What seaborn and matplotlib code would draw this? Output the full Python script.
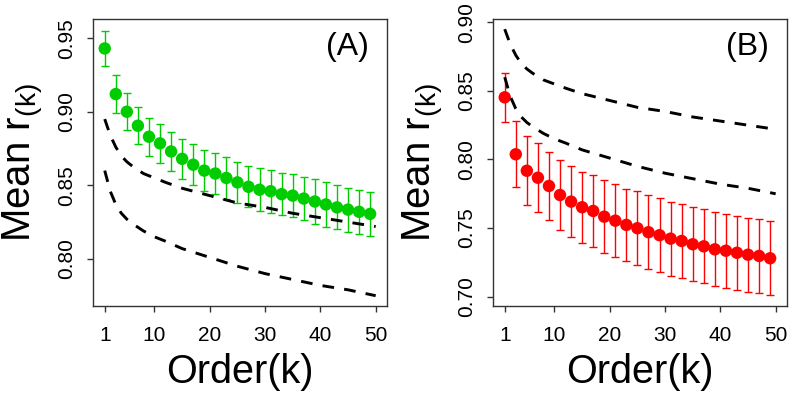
import numpy as np
import pandas as pd
import seaborn as sns
import matplotlib
matplotlib.use("Agg")
import matplotlib.pyplot as plt

sns.set_style("white")
plt.rcParams['font.family'] = ['Liberation Sans', 'DejaVu Sans']
plt.rcParams['mathtext.fontset'] = 'custom'
plt.rcParams['mathtext.rm'] = 'Liberation Sans'
plt.rcParams['mathtext.it'] = 'Liberation Sans'
plt.rcParams['text.color'] = 'black'
plt.rcParams['xtick.labelcolor'] = 'black'
plt.rcParams['ytick.labelcolor'] = 'black'

# orders with points (odd k)
k_pts = [1, 3, 5, 7, 9, 11, 13, 15, 17, 19, 21, 23, 25,
         27, 29, 31, 33, 35, 37, 39, 41, 43, 45, 47, 49]

# panel A (green)
mean_a = [0.943, 0.912, 0.900, 0.8905, 0.883, 0.8785, 0.873, 0.868, 0.864,
          0.860, 0.858, 0.855, 0.852, 0.849, 0.847, 0.846, 0.844, 0.843,
          0.841, 0.839, 0.837, 0.835, 0.8335, 0.832, 0.8306]
err_a = [0.012, 0.013, 0.0125, 0.0125, 0.013, 0.013, 0.0135, 0.0135, 0.014,
         0.014, 0.014, 0.014, 0.014, 0.014, 0.0145, 0.0145, 0.0145, 0.0145,
         0.0145, 0.015, 0.015, 0.015, 0.015, 0.015, 0.015]

# panel B (red)
mean_b = [0.8453, 0.8038, 0.7918, 0.7867, 0.7807, 0.7741, 0.7693, 0.7652,
          0.7625, 0.7583, 0.7554, 0.7523, 0.7499, 0.747, 0.7448, 0.7423,
          0.7406, 0.7382, 0.7367, 0.7345, 0.7335, 0.732, 0.7306, 0.7297, 0.728]
err_b = [0.018, 0.024, 0.025, 0.025, 0.025, 0.0255, 0.026, 0.026, 0.026,
         0.0265, 0.0265, 0.0265, 0.027, 0.027, 0.027, 0.027, 0.027, 0.027,
         0.027, 0.027, 0.027, 0.027, 0.027, 0.027, 0.027]

# dashed reference curves (same in both panels)
k_curve = [1, 2, 3, 4, 5, 6, 8, 10, 12, 15, 20, 25, 30, 35, 40, 45, 50]
upper_curve = [0.895, 0.884, 0.876, 0.870, 0.866, 0.863, 0.858, 0.855, 0.852,
               0.848, 0.843, 0.838, 0.835, 0.831, 0.828, 0.825, 0.822]
lower_curve = [0.860, 0.846, 0.837, 0.831, 0.827, 0.824, 0.819, 0.815, 0.812,
               0.807, 0.801, 0.795, 0.790, 0.786, 0.782, 0.779, 0.775]

xticks = [1, 10, 20, 30, 40, 50]

fig = plt.figure(figsize=(8, 4), dpi=100)
ax_a = fig.add_axes([0.11625, 0.235, 0.3675, 0.7175])
ax_b = fig.add_axes([0.61625, 0.235, 0.3675, 0.7175])

panels = [
    (ax_a, mean_a, err_a, '#00CD00', '(A)', [0.80, 0.85, 0.90, 0.95], (0.768, 0.963)),
    (ax_b, mean_b, err_b, '#FF0000', '(B)', [0.70, 0.75, 0.80, 0.85, 0.90], (0.6932, 0.9024)),
]

for ax, mean, err, col, tag, yticks, ylim in panels:
    df = pd.DataFrame({'k': k_pts, 'mean': mean, 'err': err})
    ax.errorbar(df['k'], df['mean'], yerr=df['err'], fmt='none', ecolor=col,
                elinewidth=1.0, capsize=2.8, capthick=1.0, zorder=2)
    sns.scatterplot(data=df, x='k', y='mean', color=col, s=80, edgecolor='none',
                    ax=ax, zorder=3)
    cdf = pd.DataFrame({'k': k_curve, 'up': upper_curve, 'lo': lower_curve})
    for c in ['up', 'lo']:
        sns.lineplot(data=cdf, x='k', y=c, color='black', lw=2.1, ax=ax,
                     dashes=False, estimator=None, zorder=4)
        ax.lines[-1].set_dashes((4, 3.5))

    ax.set_xlim(-1.12, 52.05)
    ax.set_ylim(*ylim)
    ax.set_xticks(xticks)
    ax.set_xticklabels([str(t) for t in xticks], fontsize=15)
    ax.set_yticks(yticks)
    ax.set_yticklabels(['%.2f' % t for t in yticks], fontsize=15,
                       rotation=90, va='center')
    ax.tick_params(axis='both', direction='out', length=4.3, width=1.0,
                   color='#333333', bottom=True, left=True)
    ax.tick_params(axis='x', pad=10)
    ax.tick_params(axis='y', pad=7.5)
    for sp in ax.spines.values():
        sp.set_color('#333333')
        sp.set_linewidth(1.0)
    ax.set_xlabel('')
    ax.set_ylabel('')
    ax.text(0.5, -0.268, 'Order(k)', transform=ax.transAxes, fontsize=28.5,
            ha='center', va='baseline')
    ax.text(-0.212, 0.5, r'Mean r$_{\mathrm{(k)}}$', transform=ax.transAxes,
            fontsize=29, rotation=90, ha='center', va='baseline',
            rotation_mode='anchor')
    ax.text(0.867, 0.902, tag, transform=ax.transAxes, fontsize=23,
            ha='center', va='center')

fig.savefig('out.png', dpi=100)
